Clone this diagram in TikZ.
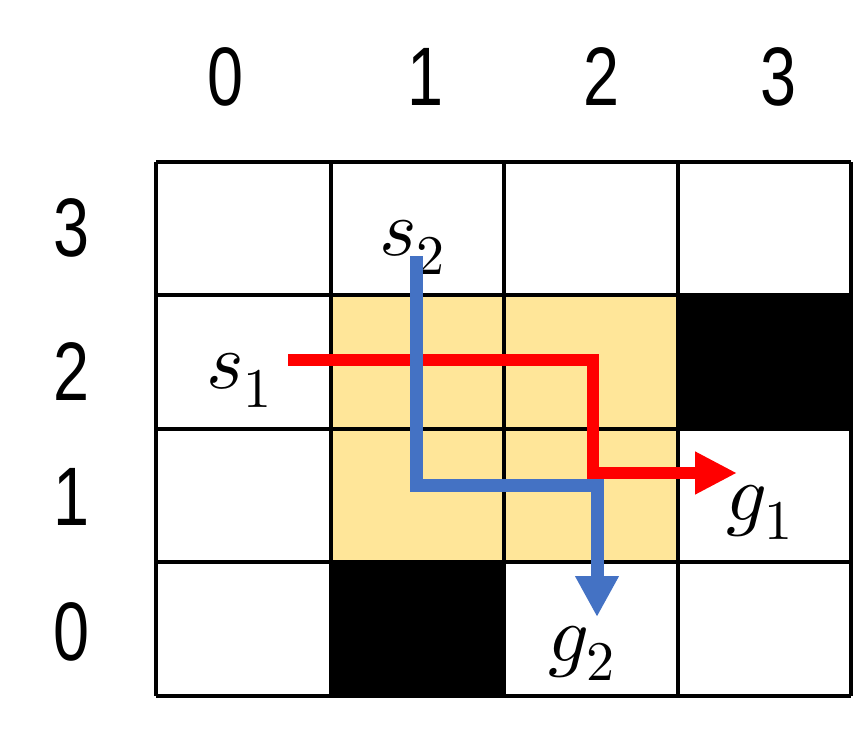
\documentclass[tikz,border=0pt]{standalone}
\usepackage{fontspec}
\usepackage{unicode-math}
\setmathfont{Latin Modern Math}
\usetikzlibrary{arrows.meta}
\newfontfamily\labfont{Liberation Sans}[FakeStretch=0.78]
\definecolor{cellyellow}{HTML}{FFE699}
\definecolor{pathred}{HTML}{FF0000}
\definecolor{pathblue}{HTML}{4472C4}
\tikzset{
  gridline/.style={draw=black,line width=4pt},
  axislabel/.style={font=\labfont\fontsize{83}{83}\selectfont,inner sep=0pt,anchor=base},
  mathlabel/.style={font=\fontsize{80}{82}\selectfont,inner sep=0pt,anchor=base west},
  redpath/.style={draw=pathred,line width=12.5pt,line join=miter,-{Triangle[length=42pt,width=40pt]}},
  bluepath/.style={draw=pathblue,line width=13pt,line join=miter,-{Triangle[length=41pt,width=41pt]}}
}
\begin{document}
\begin{tikzpicture}[x=1pt,y=-1pt]
\useasboundingbox (0,0) rectangle (856,728);
% cells
\fill[cellyellow] (330.5,294.5) rectangle (678,562);
\fill[black] (678,294.5) rectangle (851,429);
\fill[black] (330.5,562) rectangle (504,696);
% grid
\foreach \x in {156,330.5,504,678,851} \draw[gridline] (\x,162) -- (\x,696);
\foreach \y in {162,294.5,429,562,696} \draw[gridline] (156,\y) -- (851,\y);
% axis labels
\node[axislabel] (c0) at (225,105) {0};
\node[axislabel] (c1) at (425,105) {1};
\node[axislabel] (c2) at (601,105) {2};
\node[axislabel] (c3) at (778,105) {3};
\node[axislabel] (r3) at (72,256) {3};
\node[axislabel] (r2) at (72,400) {2};
\node[axislabel] (r1) at (72,525) {1};
\node[axislabel] (r0) at (72,660) {0};
% math labels
\node[mathlabel] (s1) at (206,388) {$s_1$};
\node[mathlabel] (s2) at (379,255) {$s_2$};
\node[mathlabel] (g1) at (726,520) {$g_1$};
\node[mathlabel] (g2) at (548,661) {$g_2$};
% path points
\coordinate (rs) at (288,360);
\coordinate (ra) at (593,360);
\coordinate (rb) at (593,473);
\coordinate (re) at (737,473);
\coordinate (bs) at (416,256);
\coordinate (ba) at (416,485);
\coordinate (bb) at (597,485);
\coordinate (be) at (597,617);
\draw[redpath] (rs) -- (ra) -- (rb) -- (re);
\draw[bluepath] (bs) -- (ba) -- (bb) -- (be);
\end{tikzpicture}
\end{document}
